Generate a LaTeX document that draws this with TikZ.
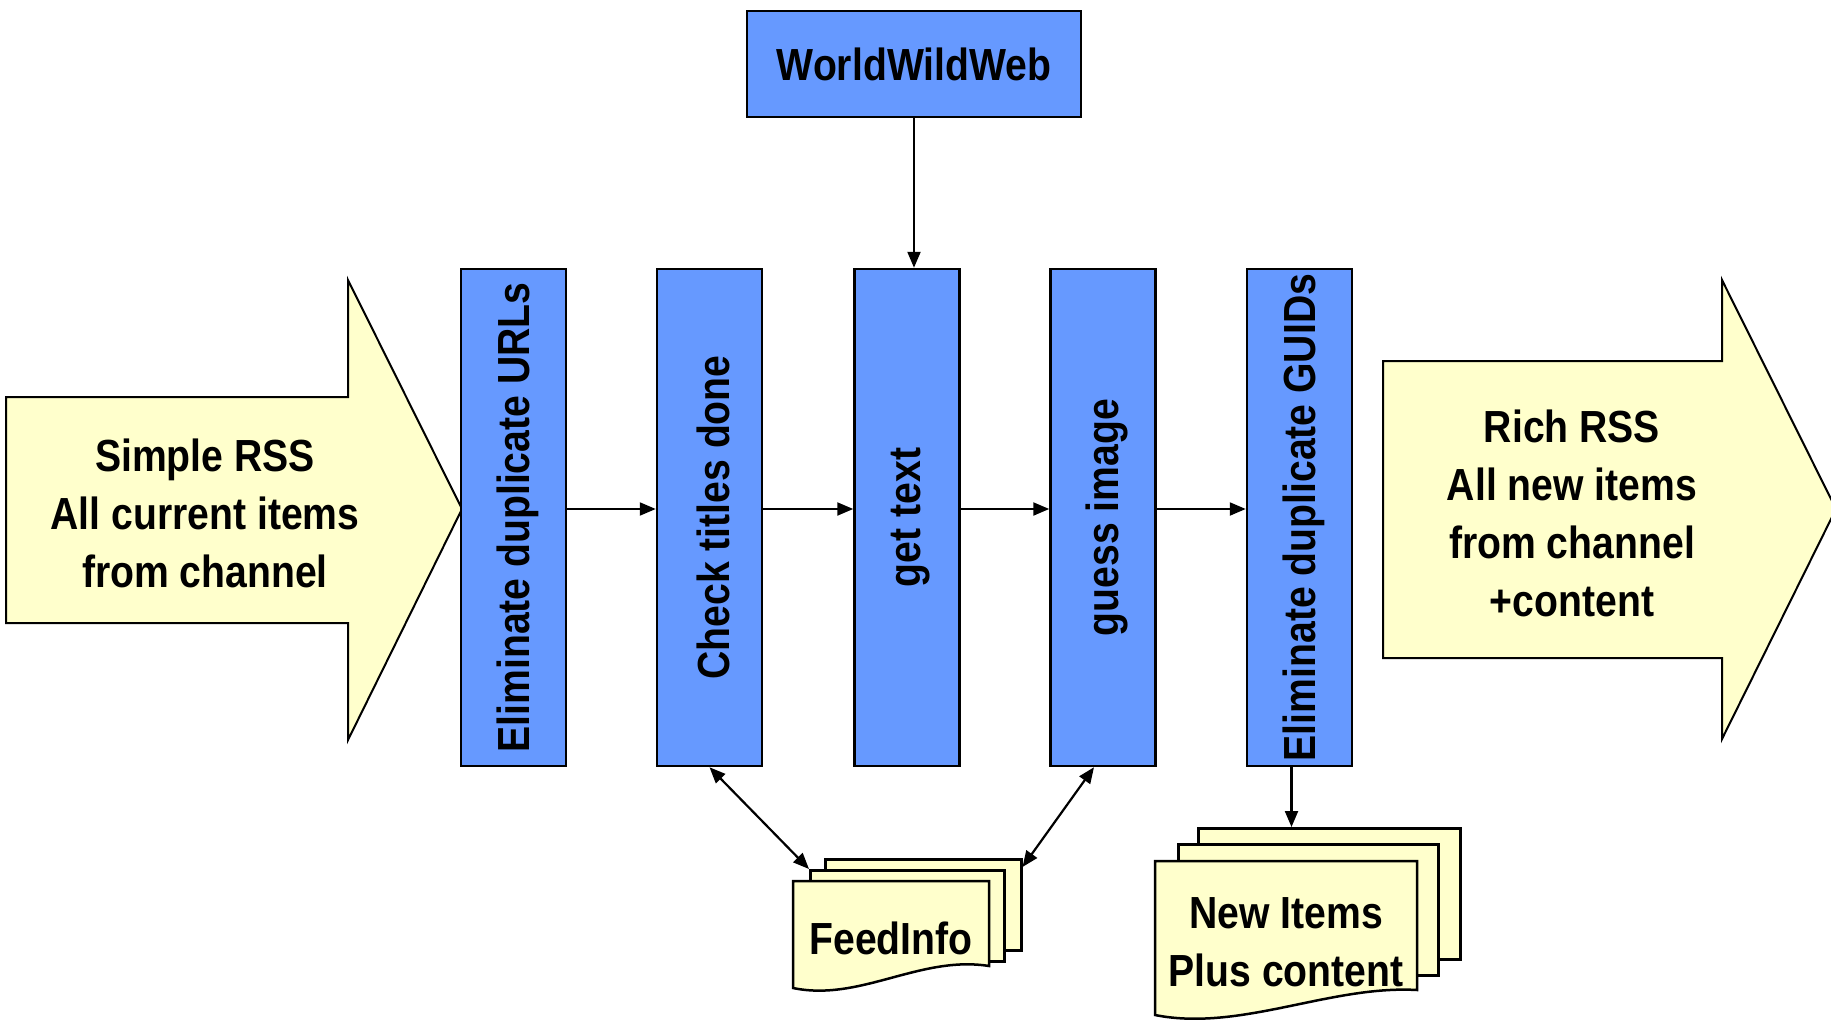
\documentclass[tikz,border=0pt]{standalone}
\usepackage{fontspec}
\setmainfont{Liberation Sans}[FakeStretch=0.87]
\usetikzlibrary{arrows.meta,calc}
\definecolor{procblue}{RGB}{102,153,255}
\definecolor{docyellow}{RGB}{255,255,204}
% upright text turned to read bottom-to-top, nudged to sit on the box axis
\newcommand{\uplabel}[1]{\rotatebox{90}{\raisebox{-4pt}[\height][\depth]{#1}}}

\begin{document}
\begin{tikzpicture}[x=1pt,y=-1pt,
  lbl/.style={font=\fontsize{45}{58}\selectfont\bfseries, align=center},
  proc/.style={draw=black, line width=2.5pt, fill=procblue, minimum width=105pt,
    minimum height=497pt, inner sep=0pt, lbl},
  bigarrow/.style={draw=black, line width=2pt, fill=docyellow, line join=miter},
  sheet/.style={draw=black, line width=2.5pt, fill=docyellow, inner sep=0pt, anchor=north west},
  flow/.style={line width=2.2pt, -{Triangle[length=16pt,width=13pt]}},
  both/.style={line width=2.2pt, {Triangle[length=16pt,width=13pt]}-{Triangle[length=16pt,width=13pt]}}
]
\useasboundingbox (0,0) rectangle (1831,1022);

% input and output block arrows
\draw[bigarrow] (6,397) -- (348,397) -- (348,280) -- (462,509) -- (348,740)
  -- (348,623) -- (6,623) -- cycle;
\node[lbl] (inTxt) at (205,513) {Simple RSS\\All current items\\from channel};
\draw[bigarrow] (1383,361) -- (1722,361) -- (1722,280) -- (1836,509) -- (1722,739)
  -- (1722,658) -- (1383,658) -- cycle;
\node[lbl] (outTxt) at (1572,513) {Rich RSS\\All new items\\from channel\\+content};
\coordinate (lane) at (462,509);

% processing stages
\node[proc] (s1) at (513.5,517.5) {\uplabel{Eliminate duplicate URLs}};
\node[proc] (s2) at (709.5,517.5) {\uplabel{Check titles done}};
\node[proc] (s3) at (907,517.5)   {\uplabel{get text}};
\node[proc] (s4) at (1103,517.5)  {\uplabel{guess image}};
\node[proc] (s5) at (1299.5,517.5){\uplabel{Eliminate duplicate GUIDs}};

\draw[flow] (s1.east |- lane) -- (s2.west |- lane);
\draw[flow] (s2.east |- lane) -- (s3.west |- lane);
\draw[flow] (s3.east |- lane) -- (s4.west |- lane);
\draw[flow] (s4.east |- lane) -- (s5.west |- lane);

% web source
\node[draw=black, line width=2.5pt, fill=procblue, minimum width=334pt,
  minimum height=106pt, inner sep=0pt, lbl] (www) at (914,64) {WorldWildWeb};
\draw[flow] (www.south) -- (www.south |- s3.north);

% FeedInfo document stack
\node[sheet, minimum width=196pt, minimum height=91pt] (fi3) at (824,858) {};
\node[sheet, minimum width=194pt, minimum height=91pt] (fi2) at (809,869) {};
\draw[sheet] (793,881) -- (989,881) -- (989,966)
  .. controls (920,955) and (860,1002) .. (793,988) -- cycle;
\node[lbl] (fiTxt) at (891,938) {FeedInfo};

\draw[both] (s2.south) -- (fi2.north west);
\draw[both] ($(s4.south)+(-9,0)$) -- ($(fi3.north east)+(0,9)$);

% New Items document stack
\node[sheet, minimum width=262pt, minimum height=131pt] (ni3) at (1197,827) {};
\node[sheet, minimum width=260pt, minimum height=131pt] (ni2) at (1177,843) {};
\draw[sheet] (1155,861) -- (1417,861) -- (1417,990)
  .. controls (1330,985) and (1240,1032) .. (1155,1015) -- cycle;
\node[lbl] (niTxt) at (1286,942) {New Items\\Plus content};

\draw[flow] ($(s5.south)+(-8,0)$) coordinate (guOut) -- (guOut |- ni3.north);
\end{tikzpicture}
\end{document}
